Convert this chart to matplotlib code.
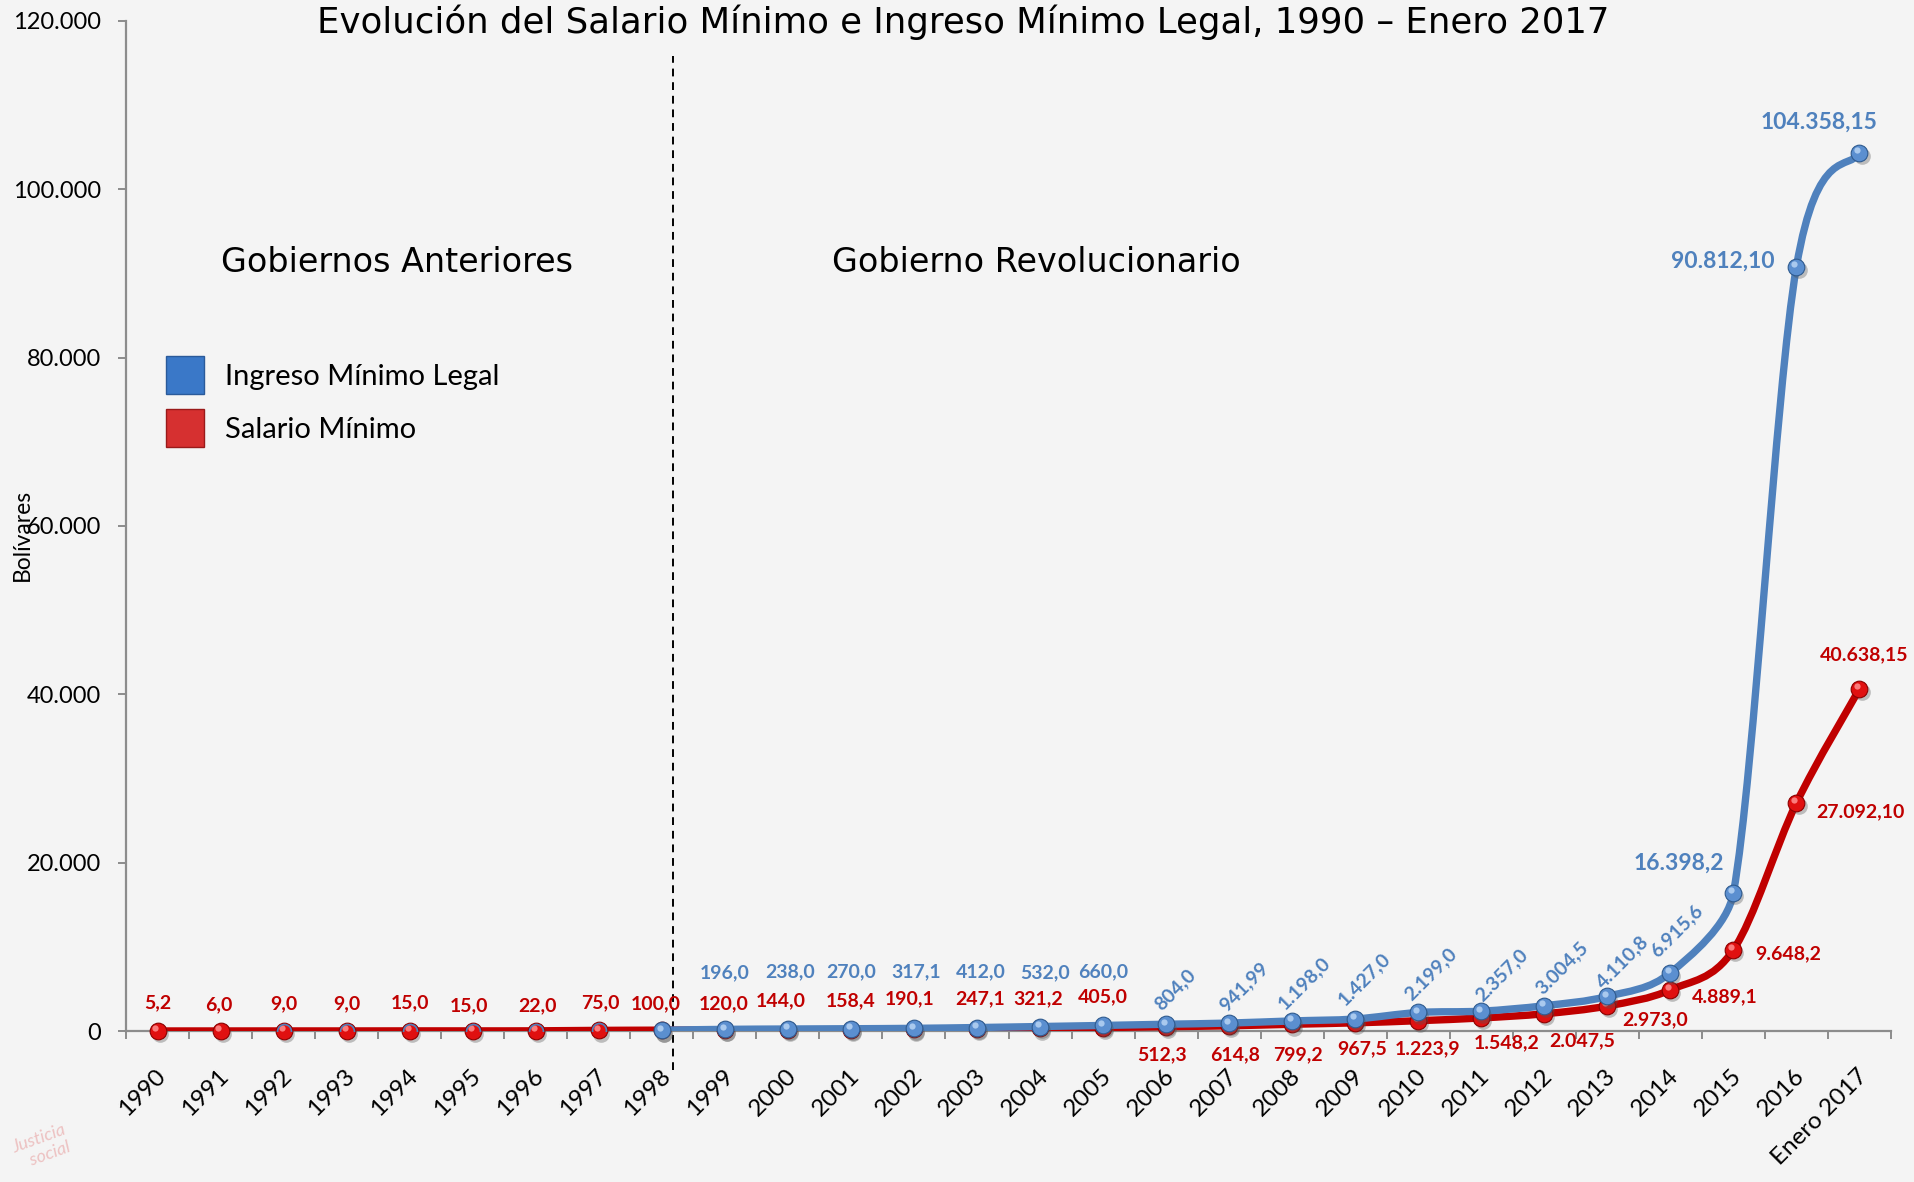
import numpy as np
import matplotlib
matplotlib.use("Agg")
import matplotlib.pyplot as plt
from matplotlib.path import Path
from matplotlib.patches import PathPatch
from matplotlib.lines import Line2D
from matplotlib import transforms

# ---- data ----
years = ['1990', '1991', '1992', '1993', '1994', '1995', '1996', '1997', '1998',
         '1999', '2000', '2001', '2002', '2003', '2004', '2005', '2006', '2007',
         '2008', '2009', '2010', '2011', '2012', '2013', '2014', '2015', '2016',
         'Enero 2017']
salario = [5.2, 6.0, 9.0, 9.0, 15.0, 15.0, 22.0, 75.0, 100.0, 120.0, 144.0, 158.4,
           190.1, 247.1, 321.2, 405.0, 512.3, 614.8, 799.2, 967.5, 1223.9, 1548.2,
           2047.5, 2973.0, 4889.1, 9648.2, 27092.10, 40638.15]
salario_dec = [1] * 26 + [2, 2]
# ingreso minimo legal starts in 1998 (index 8), first point has no label
ingreso = [100.0, 196.0, 238.0, 270.0, 317.1, 412.0, 532.0, 660.0, 804.0, 941.99,
           1198.0, 1427.0, 2199.0, 2357.0, 3004.5, 4110.8, 6915.6, 16398.2,
           90812.10, 104358.15]
ingreso_dec = [1, 1, 1, 1, 1, 1, 1, 1, 1, 2, 1, 1, 1, 1, 1, 1, 1, 1, 2, 2]
ingreso_start = 8
ring_years = [2, 3, 4, 5, 6, 7]   # red markers with a blue ring

# label offsets in points (dx, dy)
sal_off = [(0, 20), (-1, 19), (0, 19.5), (0, 19.5), (0, 20), (-3, 18), (1, 18),
           (1, 20), (-4, 19), (-1, 19), (-5, 21), (0, 20.5), (-3, 22), (2, 21.5),
           (-1, 21), (0, 22.5), (-3, -20), (4, -21), (4, -22), (5, -19), (7, -20),
           (18.6, -18), (27.6, -19.7), (34.7, -10), (39, -5), (39.5, -3),
           (46, -6.5), (3, 24.5)]
ing_off = [None, (0, 41), (1.6, 41), (0, 41), (1.6, 41), (3, 40), (4, 39), (0, 39),
           (6.4, 25), (11, 26), (9, 27), (6.5, 29), (9, 27.6), (14.7, 26),
           (12.7, 27), (10.7, 25), (4.2, 30), (-39.5, 21.5), (-53, 3.6), (-29, 21.6)]

BLUE = '#4f81bd'
RED = '#c00000'
NARROW = ['Liberation Sans Narrow', 'DejaVu Sans Condensed', 'DejaVu Sans']
SANS = ['Lato', 'DejaVu Sans']

# axes box in pixels
AX_L, AX_R, AX_T, AX_B = 126, 1891, 21, 1031
YMAX = 120000


def fmt(v, d):
    s = f"{v:,.{d}f}"
    return s.replace(',', 'X').replace('.', ',').replace('X', '.')


def smooth_path(xs, ys):
    # catmull-rom bezier (like excel's smoothed line), in screen space.
    # when an arm is longer than its segment, shorten it by segment-length weighting
    sx = (AX_R - AX_L) / len(years)
    sy = (AX_B - AX_T) / YMAX
    p = np.column_stack([np.asarray(xs, float) * sx, np.asarray(ys, float) * sy])
    n = len(p)
    d = np.hypot(*np.diff(p, axis=0).T)
    verts = [p[0]]
    codes = [Path.MOVETO]
    for i in range(n - 1):
        a = p[max(i - 1, 0)]
        b = p[i]
        c = p[i + 1]
        e = p[min(i + 2, n - 1)]
        seg = d[i]
        arm1 = (c - a) / 6
        if np.hypot(*arm1) > seg and i > 0:
            arm1 = (c - a) * seg / (d[i - 1] + seg) / 3
        arm2 = (e - b) / 6
        if np.hypot(*arm2) > seg and i + 1 < n - 1:
            arm2 = (e - b) * seg / (seg + d[i + 1]) / 3
        verts += [b + arm1, c - arm2, c]
        codes += [Path.CURVE4] * 3
    verts = np.array(verts) / [sx, sy]
    return Path(verts, codes)


def balls(ax, fig, xs, ys, color, edge, light, z):
    shadow = transforms.offset_copy(ax.transData, fig=fig, x=1.5, y=-2.5, units='points')
    hi = transforms.offset_copy(ax.transData, fig=fig, x=-1.5, y=1.8, units='points')
    ax.plot(xs, ys, 'o', ms=12, color='#555555', alpha=0.35, mec='none',
            transform=shadow, zorder=z, clip_on=False)
    ax.plot(xs, ys, 'o', ms=12, mfc=color, mec=edge, mew=0.8, zorder=z + 0.1, clip_on=False)
    ax.plot(xs, ys, 'o', ms=4.5, mfc=light, mec='none', alpha=0.85,
            transform=hi, zorder=z + 0.2, clip_on=False)


fig = plt.figure(figsize=(19.15, 11.82), dpi=100, facecolor='#f4f4f4')
ax = fig.add_axes([AX_L / 1915, 1 - AX_B / 1182, (AX_R - AX_L) / 1915, (AX_B - AX_T) / 1182])
ax.set_facecolor('none')

x = np.arange(len(years))
xi = x[ingreso_start:]

# lines
ax.add_patch(PathPatch(smooth_path(x, salario), fill=False, ec=RED, lw=5.3,
                       capstyle='round', joinstyle='round', zorder=3))
ax.add_patch(PathPatch(smooth_path(xi, ingreso), fill=False, ec=BLUE, lw=5.3,
                       capstyle='round', joinstyle='round', zorder=5))

balls(ax, fig, x, salario, '#e01010', '#8b0000', '#ff9090', 4)
ax.plot(x[ring_years], np.array(salario)[ring_years], 'o', ms=10, mfc='none',
        mec=BLUE, mew=1.2, zorder=4.5)
balls(ax, fig, xi, ingreso, '#5b8fd0', '#2f5b8f', '#b8d4f4', 6)

# data labels
for i, (v, d) in enumerate(zip(salario, salario_dec)):
    dx, dy = sal_off[i]
    ax.annotate(fmt(v, d), (x[i], v), xytext=(dx, dy), textcoords='offset points',
                ha='center', va='center', color=RED, fontsize=14, fontweight='bold',
                family=SANS, zorder=8, annotation_clip=False)
for j, (v, d) in enumerate(zip(ingreso, ingreso_dec)):
    if ing_off[j] is None:
        continue
    dx, dy = ing_off[j]
    rot = 45 if 8 <= j <= 16 else 0
    size = 16.5 if j >= 17 else 14
    ax.annotate(fmt(v, d), (xi[j], v), xytext=(dx, dy), textcoords='offset points',
                ha='center', va='center', color=BLUE, fontsize=size, fontweight='bold',
                rotation=rot, family=SANS, zorder=8, annotation_clip=False)

# period divider
ax.plot([8.17, 8.17], [-4650, 115900], ls=(0, (4, 3)), color='black', lw=1.4,
        clip_on=False, zorder=2)
ax.text(3.8, 91300, 'Gobiernos Anteriores', ha='center', va='center', fontsize=24,
        family=NARROW)
ax.text(13.94, 91300, 'Gobierno Revolucionario', ha='center', va='center', fontsize=24,
        family=NARROW)

# axes
ax.set_xlim(-0.5, len(years) - 0.5)
ax.set_ylim(0, YMAX)
for s in ['top', 'right']:
    ax.spines[s].set_visible(False)
for s in ['left', 'bottom']:
    ax.spines[s].set_color('#8c8c8c')
    ax.spines[s].set_linewidth(1.6)

yt = np.arange(0, YMAX + 1, 20000)
ax.set_yticks(yt)
ax.set_yticklabels([fmt(v, 0) for v in yt], family=SANS, fontsize=17)
ax.tick_params(axis='y', direction='out', length=6, width=1.4, color='#8c8c8c', pad=12)

ax.set_xticks(x)
ax.set_xticklabels(years, rotation=45, ha='right', va='center', rotation_mode='anchor',
                   family=SANS, fontsize=17.5)
ax.set_xticks(np.arange(-0.5, len(years), 1), minor=True)
ax.tick_params(axis='x', which='major', length=0, pad=30)
ax.tick_params(axis='x', which='minor', direction='out', length=6, width=1.4, color='#8c8c8c')
shift = transforms.ScaledTranslation(3.5 / 72, 0, fig.dpi_scale_trans)
for lab in ax.get_xticklabels():
    lab.set_transform(lab.get_transform() + shift)

ax.set_ylabel('Bolívares', family=SANS, fontsize=16.5)
ax.yaxis.set_label_coords(-0.053, 0.491)

# legend
handles = [Line2D([], [], marker='s', ls='none', ms=27, mfc='#3a78c8', mec='#2a5a9a'),
           Line2D([], [], marker='s', ls='none', ms=27, mfc='#d63030', mec='#9a1a1a')]
ax.legend(handles, ['Ingreso Mínimo Legal', 'Salario Mínimo'], loc='center left',
          bbox_to_anchor=(0.0222, 0.621), frameon=False, borderpad=0, borderaxespad=0,
          handlelength=1.35, handletextpad=0.7, labelspacing=0.93,
          prop={'family': SANS, 'size': 21})

fig.text(0.503, 0.981, 'Evolución del Salario Mínimo e Ingreso Mínimo Legal, 1990 – Enero 2017',
         ha='center', va='center', fontsize=25.6, family=NARROW)

# faint signature watermark
fig.text(0.005, 0.01, 'Justicia\n   social', color='#e8a0a0', alpha=0.6, fontsize=13,
         style='italic', rotation=20, family=SANS)

fig.savefig('out.png', dpi=100, facecolor=fig.get_facecolor())
